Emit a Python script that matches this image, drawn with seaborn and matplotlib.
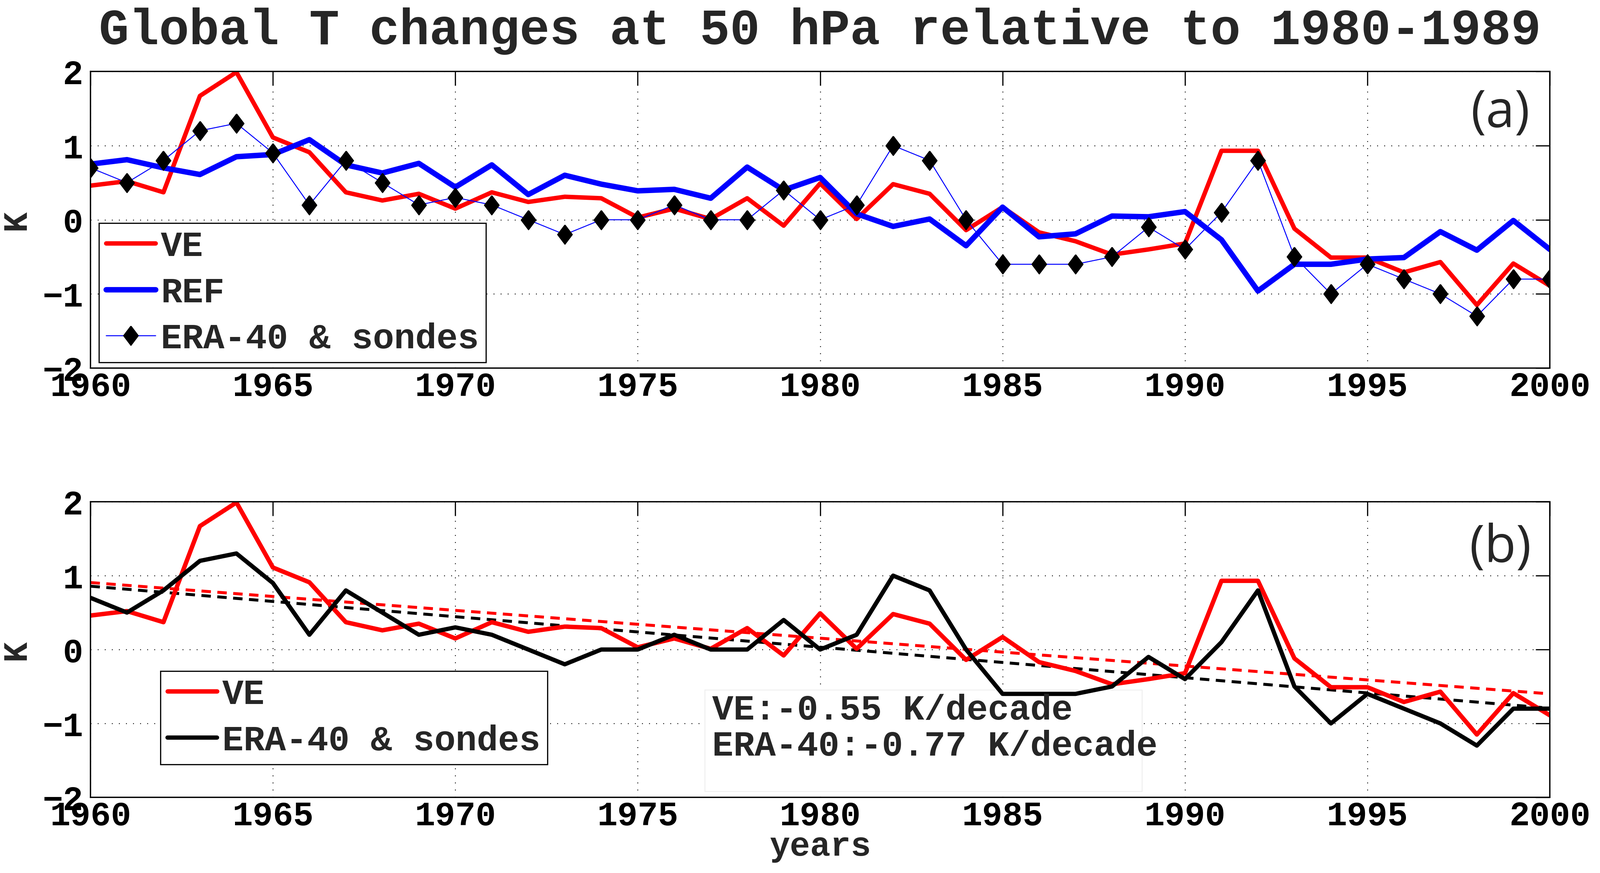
"""
Global T changes at 50 hPa relative to 1980-1989: VE / REF / ERA-40 & sondes,
with linear trends in the lower panel.
Output: out.png
"""
import matplotlib
matplotlib.use("Agg")
import matplotlib.pyplot as plt
from matplotlib.patches import Rectangle
import seaborn as sns

FIG_PATH = "out.png"

TITLE = "Global T changes at 50 hPa relative to 1980-1989"

years = list(range(1960, 2001))

# VE run (K)
ve = [0.46, 0.52, 0.37, 1.67, 1.99, 1.11, 0.91, 0.37, 0.26, 0.35,
      0.15, 0.37, 0.24, 0.31, 0.29, 0.03, 0.15, 0.01, 0.29, -0.08,
      0.49, 0.01, 0.48, 0.35, -0.14, 0.17, -0.17, -0.29, -0.47, -0.40,
      -0.32, 0.93, 0.93, -0.12, -0.51, -0.51, -0.71, -0.57, -1.15, -0.59,
      -0.89]

# REF run (K)
ref = [0.75, 0.81, 0.70, 0.61, 0.85, 0.88, 1.08, 0.74, 0.63, 0.76,
       0.44, 0.74, 0.34, 0.60, 0.48, 0.39, 0.41, 0.29, 0.71, 0.40,
       0.57, 0.08, -0.09, 0.01, -0.35, 0.17, -0.23, -0.19, 0.05, 0.04,
       0.11, -0.27, -0.96, -0.60, -0.60, -0.53, -0.51, -0.16, -0.41, -0.01,
       -0.40]

# ERA-40 & sondes (K)
era = [0.7, 0.5, 0.8, 1.2, 1.3, 0.9, 0.2, 0.8, 0.5, 0.2,
       0.3, 0.2, 0.0, -0.2, 0.0, 0.0, 0.2, 0.0, 0.0, 0.4,
       0.0, 0.2, 1.0, 0.8, 0.0, -0.6, -0.6, -0.6, -0.5, -0.1,
       -0.4, 0.1, 0.8, -0.5, -1.0, -0.6, -0.8, -1.0, -1.3, -0.8,
       -0.8]

trend_labels = ["VE:-0.55 K/decade", "ERA-40:-0.77 K/decade"]

x_ticks = [1960, 1965, 1970, 1975, 1980, 1985, 1990, 1995, 2000]
y_ticks = [-2, -1, 0, 1, 2]

MONO = ["Liberation Mono", "DejaVu Sans Mono"]
SANS = ["Open Sans", "DejaVu Sans"]

# tall diamond like the matlab 'd' marker
DIAMOND = [(0, 1), (0.76, 0), (0, -1), (-0.76, 0), (0, 1)]

LEG_KW = dict(borderaxespad=0, prop={"weight": "bold", "size": 24},
              frameon=True, fancybox=False, framealpha=1, edgecolor="k",
              handlelength=1.4, handletextpad=0.15, labelspacing=0.37,
              borderpad=0.2)


def style_axes(ax):
    ax.set_xlim(1960, 2000)
    ax.set_ylim(-2, 2)
    ax.set_xticks(x_ticks)
    ax.set_yticks(y_ticks)
    ax.grid(True, color="k", linestyle=(0, (1, 7)), linewidth=0.6)
    ax.tick_params(direction="in", length=9.6, width=0.8, top=True, right=True,
                   labelsize=23, colors="k")
    ax.tick_params(axis="y", pad=5)
    ax.tick_params(axis="x", pad=2)
    for lab in ax.get_xticklabels() + ax.get_yticklabels():
        lab.set_fontweight("bold")
    for sp in ax.spines.values():
        sp.set_visible(True)
        sp.set_color("k")
        sp.set_linewidth(0.9)
    ax.set_ylabel("K", fontsize=23, fontweight="bold")
    ax.yaxis.set_label_coords(-0.040, 0.5)


def main():
    sns.set_style("white")
    plt.rcParams["font.family"] = MONO
    plt.rcParams["axes.unicode_minus"] = True

    fig = plt.figure(figsize=(4527 / 300, 2470 / 300), dpi=300)
    left, width = 256 / 4527, (4385 - 256) / 4527
    ax1 = fig.add_axes([left, 1 - 1042 / 2470, width, 839 / 2470])
    ax2 = fig.add_axes([left, 1 - 2256 / 2470, width, 836 / 2470])

    # ---- (a)
    sns.lineplot(x=years, y=ve, ax=ax1, color="red", lw=3.0, label="VE")
    sns.lineplot(x=years, y=ref, ax=ax1, color="blue", lw=3.7, label="REF")
    sns.lineplot(x=years, y=era, ax=ax1, color="blue", lw=0.65,
                 marker=DIAMOND, markersize=13, markerfacecolor="k",
                 markeredgecolor="k", label="ERA-40 & sondes")
    style_axes(ax1)
    h, l = ax1.get_legend_handles_labels()
    ax1.legend(h, l, loc="lower left", bbox_to_anchor=(0.0058, 0.019), **LEG_KW)
    ax1.legend_.get_frame().set_linewidth(0.8)
    ax1.text(0.966, 0.859, "(a)", transform=ax1.transAxes, ha="center",
             va="center", fontsize=35, family=SANS)

    # ---- (b)
    sns.regplot(x=years, y=ve, ax=ax2, scatter=False, ci=None, color="red",
                line_kws=dict(lw=2.0, dashes=(3.2, 2.2)))
    sns.regplot(x=years, y=era, ax=ax2, scatter=False, ci=None, color="k",
                line_kws=dict(lw=2.0, dashes=(3.2, 2.2)))
    l_ve = sns.lineplot(x=years, y=ve, ax=ax2, color="red", lw=3.0,
                        label="VE").lines[-1]
    l_era = sns.lineplot(x=years, y=era, ax=ax2, color="k", lw=2.9,
                         label="ERA-40 & sondes").lines[-1]
    style_axes(ax2)
    ax2.legend([l_ve, l_era], ["VE", "ERA-40 & sondes"], loc="upper left",
               bbox_to_anchor=(0.048, 0.427), **LEG_KW)
    ax2.legend_.get_frame().set_linewidth(0.8)
    ax2.text(0.966, 0.843, "(b)", transform=ax2.transAxes, ha="center",
             va="center", fontsize=35, family=SANS)

    ax2.add_patch(Rectangle((0.421, 0.0203), 0.2995, 0.3433,
                            transform=ax2.transAxes, facecolor="white",
                            edgecolor="#eeeeee", linewidth=0.6, zorder=1.8))
    for txt, yy in zip(trend_labels, [0.2955, 0.1734]):
        ax2.text(0.426, yy, txt, transform=ax2.transAxes, ha="left",
                 va="center", fontsize=24, fontweight="bold", zorder=3)

    ax2.set_xlabel("years", fontsize=23, fontweight="bold")
    ax2.xaxis.set_label_coords(0.5, -0.112)

    fig.text(2320 / 4527, 1 - 125 / 2470, TITLE, ha="center", va="baseline",
             fontsize=34, fontweight="bold")

    fig.savefig(FIG_PATH, dpi=300)
    plt.close(fig)
    print(f"Saved {FIG_PATH}")


if __name__ == "__main__":
    main()
